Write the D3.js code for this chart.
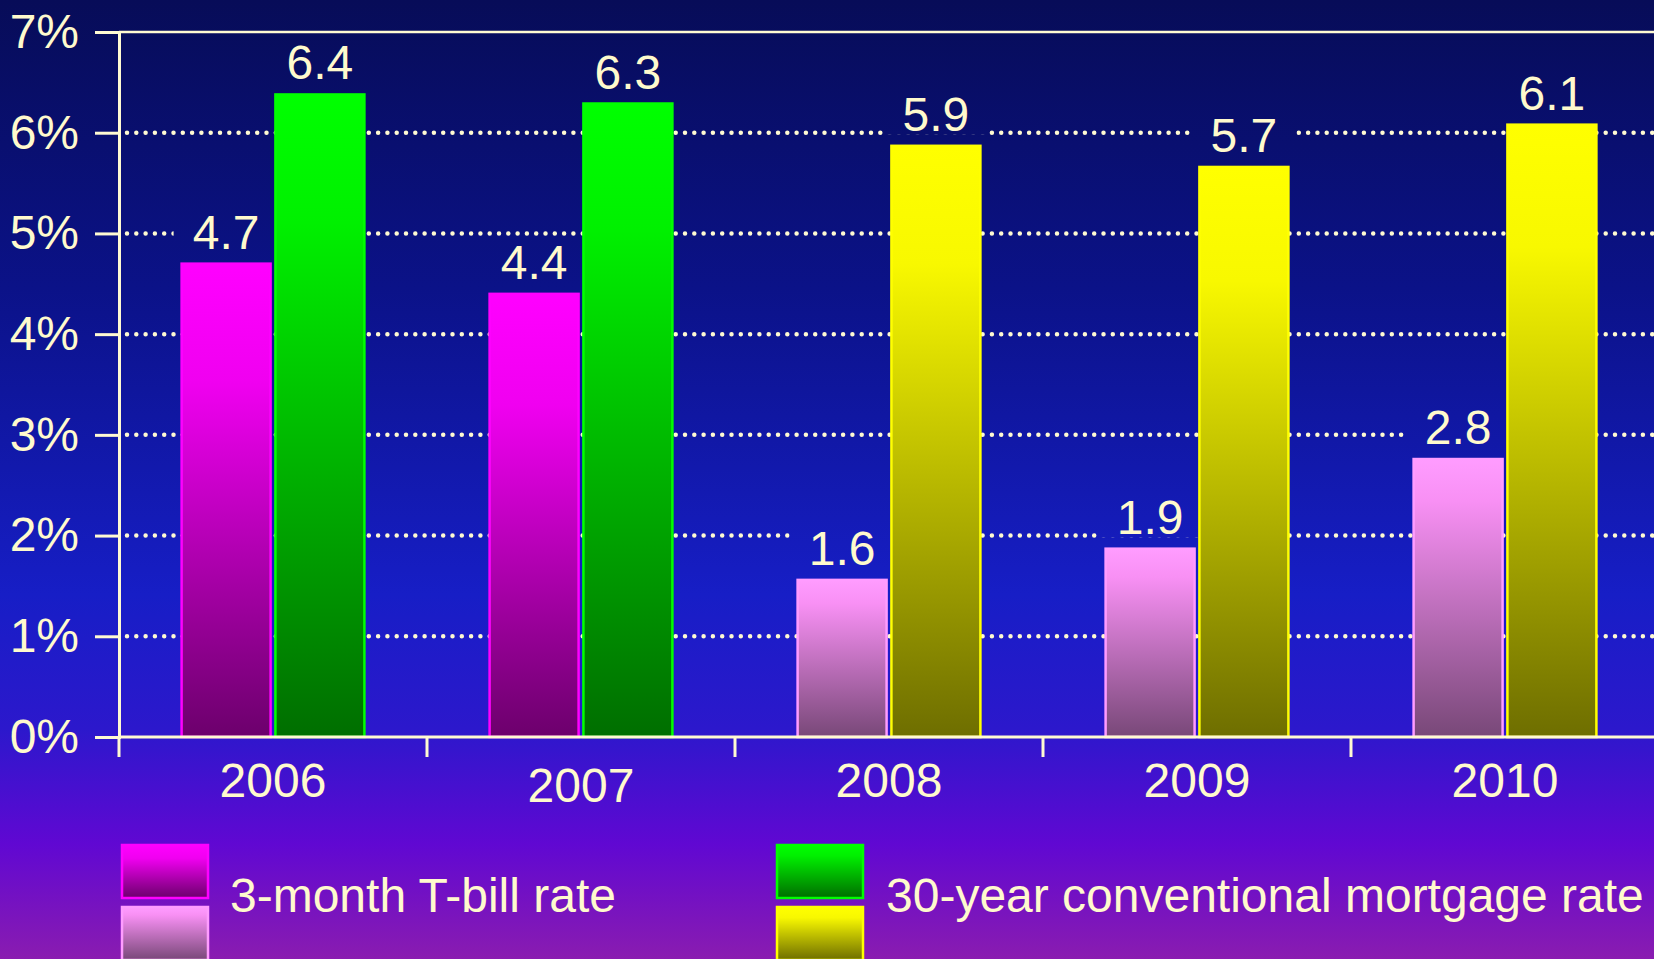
<!DOCTYPE html>
<html>
<head>
<meta charset="utf-8">
<script src="https://cdn.jsdelivr.net/npm/d3@7"></script>
<style>
  html, body { margin: 0; padding: 0; background: #0a0f5c; overflow: hidden; }
  svg { display: block; }
  text { font-family: "Liberation Sans", Arial, sans-serif; fill: #fffacd; }
</style>
</head>
<body>
<svg id="chart" width="1654" height="959"></svg>
<script>
// ---- data ----
const years = ["2006", "2007", "2008", "2009", "2010"];
const tbillRate = [4.7, 4.4, 1.56, 1.87, 2.76];
const mortgageRate = [6.38, 6.29, 5.87, 5.66, 6.08];
const yTicks = [0, 1, 2, 3, 4, 5, 6, 7];
const legendLabels = ["3-month T-bill rate", "30-year conventional mortgage rate"];

const W = 1654, H = 959;
const svg = d3.select("#chart");
const defs = svg.append("defs");

// background gradient
const bg = defs.append("linearGradient").attr("id", "bg")
  .attr("gradientUnits", "userSpaceOnUse").attr("x1", 0).attr("y1", 0).attr("x2", 0).attr("y2", H);
[[0, "#070c58"], [0.3, "#0b1288"], [0.62, "#171ec6"], [0.76, "#2c18cc"], [0.88, "#6008d2"], [1, "#8a1cb0"]]
  .forEach(([o, c]) => bg.append("stop").attr("offset", o).attr("stop-color", c));

function grad(id, stops) {
  const g = defs.append("linearGradient").attr("id", id)
    .attr("x1", 0).attr("y1", 0).attr("x2", 0).attr("y2", 1);
  stops.forEach(([o, c]) => g.append("stop").attr("offset", o).attr("stop-color", c));
}
grad("gMagenta", [[0, "#ff00ff"], [0.25, "#f000f0"], [1, "#6c006c"]]);
grad("gGreen", [[0, "#00ff00"], [0.2, "#00f000"], [1, "#006e00"]]);
grad("gPale", [[0, "#ff9cff"], [0.15, "#f890f4"], [1, "#784878"]]);
grad("gYellow", [[0, "#ffff00"], [0.2, "#f8f800"], [1, "#6e6e00"]]);

svg.append("rect").attr("width", W).attr("height", H).attr("fill", "url(#bg)");

// ---- scales ----
const y = d3.scaleLinear().domain([0, 7]).range([737, 32]);
const x = d3.scaleBand().domain(years).range([119, 1659]);
const xs = d3.scaleBand().domain(["tbill", "mort"])
  .range([x.bandwidth() * 0.2, x.bandwidth() * 0.8]).paddingInner(0.03);

const cream = "#fffad2";
const xMin = 119, xMax = W;

// gridlines (dotted)
svg.append("g").selectAll("line").data(yTicks.filter(d => d > 0 && d < 7)).join("line")
  .attr("x1", xMin + 8).attr("x2", xMax).attr("y1", d => y(d)).attr("y2", d => y(d))
  .attr("stroke", cream).attr("stroke-width", 4.5).attr("stroke-linecap", "round")
  .attr("stroke-dasharray", "0 9.3");

// top frame line
svg.append("line").attr("x1", xMin).attr("x2", xMax).attr("y1", y(7)).attr("y2", y(7))
  .attr("stroke", cream).attr("stroke-width", 2.5);

// bar data
const bars = [];
years.forEach((yr, i) => {
  const late = +yr >= 2008;
  bars.push({ year: yr, key: "tbill", v: tbillRate[i], fill: late ? "url(#gPale)" : "url(#gMagenta)", stroke: late ? "#ff9cff" : "#ff00ff" });
  bars.push({ year: yr, key: "mort", v: mortgageRate[i], fill: late ? "url(#gYellow)" : "url(#gGreen)", stroke: late ? "#ffff00" : "#00ff00" });
});
const fmt = d3.format(".1f");
const bx = d => x(d.year) + xs(d.key);

// label background boxes (mask gridlines)
svg.append("g").selectAll("rect").data(bars).join("rect")
  .attr("x", d => bx(d) - 7).attr("width", xs.bandwidth() + 14)
  .attr("y", d => y(d.v) - 15 - 37).attr("height", 41)
  .attr("fill", "url(#bg)");

// bars
svg.append("g").selectAll("rect").data(bars).join("rect")
  .attr("x", d => bx(d) + 1).attr("width", xs.bandwidth() - 2)
  .attr("y", d => y(d.v)).attr("height", d => y(0) - y(d.v))
  .attr("fill", d => d.fill).attr("stroke", d => d.stroke).attr("stroke-width", 2.5);

// value labels
svg.append("g").selectAll("text").data(bars).join("text")
  .attr("x", d => bx(d) + xs.bandwidth() / 2).attr("y", d => y(d.v) - 15)
  .attr("text-anchor", "middle").attr("font-size", 48)
  .text(d => fmt(d.v));

// y axis
const yAxis = d3.axisLeft(y).tickValues(yTicks).tickFormat(d => d + "%").tickSize(24).tickPadding(16);
const gy = svg.append("g").attr("transform", `translate(${xMin},0)`).call(yAxis);
gy.select(".domain").attr("stroke", cream).attr("stroke-width", 3);
gy.selectAll(".tick line").attr("stroke", cream).attr("stroke-width", 3);
gy.selectAll(".tick text").attr("font-size", 48).attr("fill", cream)
  .attr("font-family", '"Liberation Sans", Arial, sans-serif');

// x axis
svg.append("line").attr("x1", xMin).attr("x2", xMax).attr("y1", y(0)).attr("y2", y(0))
  .attr("stroke", cream).attr("stroke-width", 3);
svg.append("g").selectAll("line").data(years).join("line")
  .attr("x1", d => x(d)).attr("x2", d => x(d))
  .attr("y1", y(0)).attr("y2", y(0) + 20)
  .attr("stroke", cream).attr("stroke-width", 3);
svg.append("g").selectAll("text").data(years).join("text")
  .attr("x", d => x(d) + x.bandwidth() / 2).attr("y", d => d === "2007" ? 802 : 797)
  .attr("text-anchor", "middle").attr("font-size", 48)
  .text(d => d);

// legend
const legend = [
  { label: legendLabels[0], fills: ["url(#gMagenta)", "url(#gPale)"], strokes: ["#ff00ff", "#ff9cff"], x: 121, tx: 230 },
  { label: legendLabels[1], fills: ["url(#gGreen)", "url(#gYellow)"], strokes: ["#00ff00", "#ffff00"], x: 776, tx: 886 }
];
const lg = svg.append("g").selectAll("g").data(legend).join("g");
lg.each(function(d) {
  const g = d3.select(this);
  d.fills.forEach((f, k) => {
    g.append("rect").attr("x", d.x + 1).attr("y", 845 + k * 62).attr("width", 86).attr("height", 53)
      .attr("fill", f).attr("stroke", d.strokes[k]).attr("stroke-width", 2.5);
  });
  g.append("text").attr("x", d.tx).attr("y", 912).attr("font-size", 48).text(d.label);
});
</script>
</body>
</html>
